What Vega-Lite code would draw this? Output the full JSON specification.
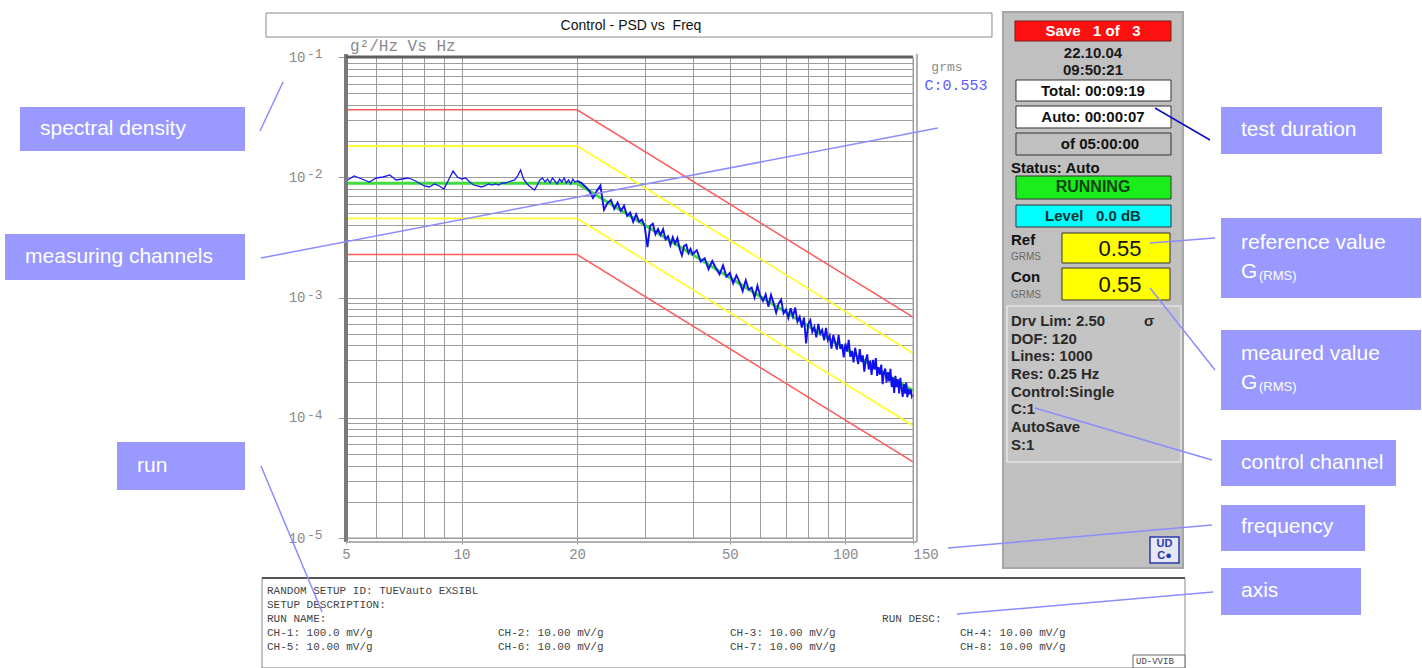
{
  "$schema": "https://vega.github.io/schema/vega-lite/v6.json",
  "width": 567,
  "height": 481,
  "autosize": {"type": "none"},
  "padding": {"left": 346, "top": 57, "right": 509, "bottom": 130},
  "background": "white",
  "config": {"view": {"stroke": null}},
  "data": {"values": [{}]},
  "datasets": {
    "limits": [
      {"f": 5, "psd": 0.0364, "level": "abort", "side": "upper"},
      {"f": 20, "psd": 0.0364, "level": "abort", "side": "upper"},
      {"f": 150, "psd": 0.000688, "level": "abort", "side": "upper"},
      {"f": 5, "psd": 0.002275, "level": "abort", "side": "lower"},
      {"f": 20, "psd": 0.002275, "level": "abort", "side": "lower"},
      {"f": 150, "psd": 0.000043, "level": "abort", "side": "lower"},
      {"f": 5, "psd": 0.0182, "level": "alarm", "side": "upper"},
      {"f": 20, "psd": 0.0182, "level": "alarm", "side": "upper"},
      {"f": 150, "psd": 0.000344, "level": "alarm", "side": "upper"},
      {"f": 5, "psd": 0.00455, "level": "alarm", "side": "lower"},
      {"f": 20, "psd": 0.00455, "level": "alarm", "side": "lower"},
      {"f": 150, "psd": 0.000086, "level": "alarm", "side": "lower"}
    ],
    "profile": [
      {"f": 5, "psd": 0.0089},
      {"f": 20, "psd": 0.0089},
      {"f": 150, "psd": 0.000168}
    ],
    "trace": [
      {"f":5,"psd":0.00931},{"f":5.25,"psd":0.01024},{"f":5.5,"psd":0.00967},{"f":5.75,"psd":0.00913},{"f":6,"psd":0.00986},{"f":6.25,"psd":0.01005},{"f":6.5,"psd":0.01044},{"f":6.75,"psd":0.00949},{"f":7,"psd":0.00967},{"f":7.25,"psd":0.00986},{"f":7.5,"psd":0.00949},{"f":7.75,"psd":0.00896},{"f":8,"psd":0.00846},{"f":8.25,"psd":0.0083},{"f":8.5,"psd":0.00879},{"f":8.75,"psd":0.00846},{"f":9,"psd":0.00799},{"f":9.25,"psd":0.00949},{"f":9.5,"psd":0.01127},{"f":9.75,"psd":0.01005},{"f":10,"psd":0.00967},{"f":10.25,"psd":0.00986},{"f":10.5,"psd":0.00913},{"f":10.75,"psd":0.00862},{"f":11,"psd":0.00846},{"f":11.25,"psd":0.0083},{"f":11.5,"psd":0.00846},{"f":11.75,"psd":0.00879},{"f":12,"psd":0.00862},{"f":12.25,"psd":0.00879},{"f":12.5,"psd":0.00862},{"f":12.75,"psd":0.00896},{"f":13,"psd":0.00896},{"f":13.25,"psd":0.00913},{"f":13.5,"psd":0.00931},{"f":13.75,"psd":0.00949},{"f":14,"psd":0.01024},{"f":14.25,"psd":0.01149},{"f":14.5,"psd":0.00967},{"f":14.75,"psd":0.00896},{"f":15,"psd":0.00846},{"f":15.25,"psd":0.00814},{"f":15.5,"psd":0.00783},{"f":15.75,"psd":0.00862},{"f":16,"psd":0.00949},{"f":16.25,"psd":0.00986},{"f":16.5,"psd":0.00913},{"f":16.75,"psd":0.00967},{"f":17,"psd":0.00896},{"f":17.25,"psd":0.00986},{"f":17.5,"psd":0.00931},{"f":17.75,"psd":0.00879},{"f":18,"psd":0.00967},{"f":18.25,"psd":0.00913},{"f":18.5,"psd":0.00986},{"f":18.75,"psd":0.00896},{"f":19,"psd":0.00949},{"f":19.25,"psd":0.00879},{"f":19.5,"psd":0.00967},{"f":19.75,"psd":0.00913},{"f":20,"psd":0.00931},
      {"f":20.5,"psd":0.00898},{"f":21,"psd":0.00839},{"f":21.5,"psd":0.00776},{"f":22,"psd":0.00673},{"f":22.5,"psd":0.00767},{"f":23,"psd":0.00853},{"f":23.5,"psd":0.00536},{"f":24,"psd":0.0061},{"f":24.5,"psd":0.00647},{"f":25,"psd":0.00545},{"f":25.5,"psd":0.00615},{"f":26,"psd":0.00525},{"f":26.5,"psd":0.0058},{"f":27,"psd":0.00477},{"f":27.5,"psd":0.00509},{"f":28,"psd":0.00425},{"f":28.5,"psd":0.00492},{"f":29,"psd":0.00427},{"f":29.5,"psd":0.00446},{"f":30,"psd":0.00391},{"f":30.5,"psd":0.00262},{"f":31,"psd":0.00393},{"f":31.5,"psd":0.0041},{"f":32,"psd":0.00336},{"f":32.5,"psd":0.00371},{"f":33,"psd":0.0033},{"f":33.5,"psd":0.00369},{"f":34,"psd":0.00304},{"f":34.5,"psd":0.00323},{"f":35,"psd":0.00272},{"f":35.5,"psd":0.00317},{"f":36,"psd":0.0028},{"f":36.5,"psd":0.00311},{"f":37,"psd":0.00254},{"f":37.5,"psd":0.00224},{"f":38,"psd":0.00269},{"f":38.5,"psd":0.00275},{"f":39,"psd":0.00234},{"f":39.5,"psd":0.00254},{"f":40,"psd":0.00229},
      {"f":41,"psd":0.00247},{"f":42,"psd":0.00199},{"f":43,"psd":0.00212},{"f":44,"psd":0.00172},{"f":45,"psd":0.00201},{"f":46,"psd":0.00175},{"f":47,"psd":0.00156},{"f":48,"psd":0.00185},{"f":49,"psd":0.00149},{"f":50,"psd":0.0016},{"f":51,"psd":0.00131},{"f":52,"psd":0.00153},{"f":53,"psd":0.00134},{"f":54,"psd":0.00113},{"f":55,"psd":0.00139},{"f":56,"psd":0.00116},{"f":57,"psd":0.00121},{"f":58,"psd":0.001},{"f":59,"psd":0.00125},{"f":60,"psd":0.00103},{"f":61,"psd":0.000934},{"f":62,"psd":0.00106},{"f":63,"psd":0.000839},{"f":64,"psd":0.00105},{"f":65,"psd":0.000894},{"f":66,"psd":0.000747},{"f":67,"psd":0.00089},{"f":68,"psd":0.00096},{"f":69,"psd":0.000738},{"f":70,"psd":0.000793},{"f":71,"psd":0.000675},{"f":72,"psd":0.000814},{"f":73,"psd":0.000694},{"f":74,"psd":0.000825},{"f":75,"psd":0.000632},{"f":76,"psd":0.000692},{"f":77,"psd":0.000562},{"f":78,"psd":0.000681},{"f":79,"psd":0.000415},{"f":80,"psd":0.000601},
      {"f":81,"psd":0.000649},{"f":82,"psd":0.000517},{"f":83,"psd":0.000569},{"f":84,"psd":0.000466},{"f":85,"psd":0.000604},{"f":86,"psd":0.0005},{"f":87,"psd":0.000538},{"f":88,"psd":0.00044},{"f":89,"psd":0.00056},{"f":90,"psd":0.000443},{"f":91,"psd":0.000483},{"f":92,"psd":0.000376},{"f":93,"psd":0.000488},{"f":94,"psd":0.000427},{"f":95,"psd":0.000369},{"f":96,"psd":0.000489},{"f":97,"psd":0.000373},{"f":98,"psd":0.000408},{"f":99,"psd":0.000318},{"f":100,"psd":0.000414},{"f":101,"psd":0.000356},{"f":102,"psd":0.000445},{"f":103,"psd":0.000321},{"f":104,"psd":0.000359},{"f":105,"psd":0.000289},{"f":106,"psd":0.000382},{"f":107,"psd":0.000323},{"f":108,"psd":0.000279},{"f":109,"psd":0.000373},{"f":110,"psd":0.000291},{"f":111,"psd":0.00033},{"f":112,"psd":0.000242},{"f":113,"psd":0.000302},{"f":114,"psd":0.000336},{"f":115,"psd":0.000252},{"f":116,"psd":0.000297},{"f":117,"psd":0.000227},{"f":118,"psd":0.000303},{"f":119,"psd":0.000251},{"f":120,"psd":0.000314},
      {"f":121,"psd":0.000223},{"f":122,"psd":0.000264},{"f":123,"psd":0.000228},{"f":124,"psd":0.000277},{"f":125,"psd":0.00019},{"f":126,"psd":0.000238},{"f":127,"psd":0.000256},{"f":128,"psd":0.000197},{"f":129,"psd":0.00024},{"f":130,"psd":0.000201},{"f":131,"psd":0.000255},{"f":132,"psd":0.00018},{"f":133,"psd":0.000217},{"f":134,"psd":0.000161},{"f":135,"psd":0.000223},{"f":136,"psd":0.00018},{"f":137,"psd":0.000209},{"f":138,"psd":0.000159},{"f":139,"psd":0.000215},{"f":140,"psd":0.000178},{"f":141,"psd":0.000149},{"f":142,"psd":0.00019},{"f":143,"psd":0.000159},{"f":144,"psd":0.000196},{"f":145,"psd":0.000148},{"f":146,"psd":0.000174},{"f":147,"psd":0.000157},{"f":148,"psd":0.000172},{"f":149,"psd":0.00015},{"f":150,"psd":0.000156}
    ]
  },
  "layer": [
    {
      "data": {"name": "limits"},
      "transform": [{"filter": "datum.level == 'abort'"}],
      "mark": {"type": "line", "color": "#ff5a5a", "strokeWidth": 1.5},
      "encoding": {
        "x": {
          "field": "f", "type": "quantitative",
          "scale": {"type": "log", "domain": [5, 150], "nice": false},
          "axis": {
            "title": null, "orient": "bottom",
            "values": [5, 6, 7, 8, 9, 10, 20, 30, 40, 50, 60, 70, 80, 90, 100, 150],
            "labelExpr": "indexof([5, 10, 20, 50, 100, 150], datum.value) >= 0 ? '' + datum.value : ''",
            "grid": true, "gridColor": "#9c9c9c", "gridWidth": 1,
            "domain": false,
            "tickSize": 6, "tickColor": "#999999",
            "tickOpacity": {"condition": {"test": "indexof([5, 10, 20, 50, 100, 150], datum.value) >= 0", "value": 1}, "value": 0},
            "labelFont": "Liberation Mono", "labelFontSize": 14, "labelColor": "#8a8a8a", "labelPadding": 3,
            "labelFlush": false, "labelOverlap": false, "labelBound": false,
            "labelAlign": {"condition": {"test": "datum.value == 150", "value": "left"}, "value": "center"}
          }
        },
        "y": {
          "field": "psd", "type": "quantitative",
          "scale": {"type": "log", "domain": [0.00001, 0.1], "nice": false},
          "axis": {
            "title": null, "orient": "left",
            "values": [0.00001, 0.00002, 0.00003, 0.00004, 0.00005, 0.00006, 0.00007, 0.00008, 0.00009, 0.0001, 0.0002, 0.0003, 0.0004, 0.0005, 0.0006, 0.0007, 0.0008, 0.0009, 0.001, 0.002, 0.003, 0.004, 0.005, 0.006, 0.007, 0.008, 0.009, 0.01, 0.02, 0.03, 0.04, 0.05, 0.06, 0.07, 0.08, 0.09, 0.1],
            "labelExpr": "datum.value == 0.1 || datum.value == 0.01 || datum.value == 0.001 || datum.value == 0.0001 || datum.value == 0.00001 ? '10' : ''",
            "grid": true, "gridColor": "#9c9c9c", "gridWidth": 1,
            "domain": false,
            "tickSize": 8, "tickColor": "#999999",
            "tickOpacity": {"condition": {"test": "datum.value == 0.1 || datum.value == 0.01 || datum.value == 0.001 || datum.value == 0.0001 || datum.value == 0.00001", "value": 1}, "value": 0},
            "labelFont": "Liberation Mono", "labelFontSize": 14, "labelColor": "#8a8a8a", "labelPadding": 33,
            "labelFlush": false, "labelOverlap": false, "labelBound": false
          }
        },
        "detail": {"field": "side"}
      }
    },
    {
      "data": {"name": "limits"},
      "transform": [{"filter": "datum.level == 'alarm'"}],
      "mark": {"type": "line", "color": "#ffff33", "strokeWidth": 1.8},
      "encoding": {
        "x": {"field": "f", "type": "quantitative", "title": null},
        "y": {"field": "psd", "type": "quantitative", "title": null},
        "detail": {"field": "side"}
      }
    },
    {
      "data": {"name": "profile"},
      "mark": {"type": "line", "color": "#3fdc3f", "strokeWidth": 3},
      "encoding": {
        "x": {"field": "f", "type": "quantitative", "title": null},
        "y": {"field": "psd", "type": "quantitative", "title": null}
      }
    },
    {
      "data": {"name": "trace"},
      "transform": [{"filter": "datum.f <= 20"}],
      "mark": {"type": "line", "color": "#1a1af0", "strokeWidth": 1.3},
      "encoding": {
        "x": {"field": "f", "type": "quantitative", "title": null},
        "y": {"field": "psd", "type": "quantitative", "title": null}
      }
    },
    {
      "data": {"name": "trace"},
      "transform": [{"filter": "datum.f >= 20"}],
      "mark": {"type": "line", "color": "#1010ee", "strokeWidth": 1.9},
      "encoding": {
        "x": {"field": "f", "type": "quantitative", "title": null},
        "y": {"field": "psd", "type": "quantitative", "title": null}
      }
    },
    {"mark": {"type": "text", "text": "-1", "font": "Liberation Mono", "fontSize": 13, "color": "#8a8a8a", "align": "left", "baseline": "middle"}, "encoding": {"x": {"datum": 3.957}, "y": {"datum": 0.1059}}},
    {"mark": {"type": "text", "text": "-2", "font": "Liberation Mono", "fontSize": 13, "color": "#8a8a8a", "align": "left", "baseline": "middle"}, "encoding": {"x": {"datum": 3.957}, "y": {"datum": 0.01059}}},
    {"mark": {"type": "text", "text": "-3", "font": "Liberation Mono", "fontSize": 13, "color": "#8a8a8a", "align": "left", "baseline": "middle"}, "encoding": {"x": {"datum": 3.957}, "y": {"datum": 0.001059}}},
    {"mark": {"type": "text", "text": "-4", "font": "Liberation Mono", "fontSize": 13, "color": "#8a8a8a", "align": "left", "baseline": "middle"}, "encoding": {"x": {"datum": 3.957}, "y": {"datum": 0.0001059}}},
    {"mark": {"type": "text", "text": "-5", "font": "Liberation Mono", "fontSize": 13, "color": "#8a8a8a", "align": "left", "baseline": "middle"}, "encoding": {"x": {"datum": 3.957}, "y": {"datum": 0.00001059}}},

    {"mark": {"type": "rule", "color": "#7a7a7a", "strokeWidth": 4}, "encoding": {"x": {"datum": 5}, "y": {"datum": 0.1059}, "y2": {"datum": 0.000009262}}},
    {"mark": {"type": "rule", "color": "#5e5e5e", "strokeWidth": 3}, "encoding": {"x": {"datum": 5}, "x2": {"datum": 150}, "y": {"datum": 0.1}}},
    {"mark": {"type": "rule", "color": "#9c9c9c", "strokeWidth": 1}, "encoding": {"x": {"datum": 150}, "y": {"datum": 0.1}, "y2": {"datum": 0.00001}}},
    {"mark": {"type": "rule", "color": "#9c9c9c", "strokeWidth": 1}, "encoding": {"x": {"datum": 5}, "x2": {"datum": 150}, "y": {"datum": 0.00001}}},
    {"mark": {"type": "rule", "color": "#b0b0b0", "strokeWidth": 2}, "encoding": {"x": {"datum": 153.6}, "y": {"datum": 0.1059}, "y2": {"datum": 0.000009262}}},
    {"mark": {"type": "rule", "color": "#b0b0b0", "strokeWidth": 2}, "encoding": {"x": {"datum": 5}, "x2": {"datum": 153.6}, "y": {"datum": 0.000009262}}},

    {"mark": {"type": "rect", "fill": "white", "stroke": "#8a8a8a", "strokeWidth": 1}, "encoding": {"x": {"datum": 3.094}, "x2": {"datum": 240.9}, "y": {"datum": 0.2322}, "y2": {"datum": 0.1466}}},
    {"mark": {"type": "text", "text": "Control - PSD vs\u00a0 Freq", "font": "Liberation Sans", "fontSize": 14, "color": "#111111", "align": "center", "baseline": "middle"}, "encoding": {"x": {"datum": 27.63}, "y": {"datum": 0.1811}}},
    {"mark": {"type": "text", "text": "g²/Hz Vs Hz", "font": "Liberation Mono", "fontSize": 16, "color": "#8a8a8a", "align": "left", "baseline": "middle"}, "encoding": {"x": {"datum": 5.121}, "y": {"datum": 0.1235}}},
    {"mark": {"type": "text", "text": "grms", "font": "Liberation Mono", "fontSize": 13, "color": "#8a8a8a", "align": "center", "baseline": "middle"}, "encoding": {"x": {"datum": 183.9}, "y": {"datum": 0.08257}}},
    {"mark": {"type": "text", "text": "C:0.553", "font": "Liberation Mono", "fontSize": 15, "color": "#5a5aff", "align": "center", "baseline": "middle"}, "encoding": {"x": {"datum": 194.2}, "y": {"datum": 0.05851}}},

    {"mark": {"type": "rect", "fill": "#c0c0c0", "stroke": "#a6a6a6", "strokeWidth": 2}, "encoding": {"x": {"datum": 257.3}, "x2": {"datum": 757.6}, "y": {"datum": 0.2367}, "y2": {"datum": 0.00000563}}},
    {"mark": {"type": "rect", "fill": "#ff1010", "stroke": "#7a2020", "strokeWidth": 1}, "encoding": {"x": {"datum": 276.5}, "x2": {"datum": 705.1}, "y": {"datum": 0.1993}, "y2": {"datum": 0.1358}}},
    {"mark": {"type": "text", "text": "Save\u00a0\u00a0 1 of\u00a0\u00a0 3", "font": "Liberation Sans", "fontWeight": "bold", "fontSize": 15, "color": "white", "align": "center", "baseline": "middle"}, "encoding": {"x": {"datum": 441.6}, "y": {"datum": 0.1645}}},
    {"mark": {"type": "text", "text": "22.10.04", "font": "Liberation Sans", "fontWeight": "bold", "fontSize": 15, "color": "#1a1a1a", "align": "center", "baseline": "middle"}, "encoding": {"x": {"datum": 441.6}, "y": {"datum": 0.108}}},
    {"mark": {"type": "text", "text": "09:50:21", "font": "Liberation Sans", "fontWeight": "bold", "fontSize": 15, "color": "#1a1a1a", "align": "center", "baseline": "middle"}, "encoding": {"x": {"datum": 441.6}, "y": {"datum": 0.07794}}},
    {"mark": {"type": "rect", "fill": "white", "stroke": "#333333", "strokeWidth": 1}, "encoding": {"x": {"datum": 278.2}, "x2": {"datum": 705.1}, "y": {"datum": 0.06437}, "y2": {"datum": 0.04306}}},
    {"mark": {"type": "text", "text": "Total: 00:09:19", "font": "Liberation Sans", "fontWeight": "bold", "fontSize": 15, "color": "#111111", "align": "center", "baseline": "middle"}, "encoding": {"x": {"datum": 441.6}, "y": {"datum": 0.05265}}},
    {"mark": {"type": "rect", "fill": "white", "stroke": "#333333", "strokeWidth": 1}, "encoding": {"x": {"datum": 278.2}, "x2": {"datum": 705.1}, "y": {"datum": 0.03913}, "y2": {"datum": 0.02569}}},
    {"mark": {"type": "text", "text": "Auto: 00:00:07", "font": "Liberation Sans", "fontWeight": "bold", "fontSize": 15, "color": "#111111", "align": "center", "baseline": "middle"}, "encoding": {"x": {"datum": 441.6}, "y": {"datum": 0.0317}}},
    {"mark": {"type": "rect", "fill": "#c0c0c0", "stroke": "#333333", "strokeWidth": 1}, "encoding": {"x": {"datum": 278.2}, "x2": {"datum": 705.1}, "y": {"datum": 0.02333}, "y2": {"datum": 0.01531}}},
    {"mark": {"type": "text", "text": "of 05:00:00", "font": "Liberation Sans", "fontWeight": "bold", "fontSize": 15, "color": "#111111", "align": "center", "baseline": "middle"}, "encoding": {"x": {"datum": 460.5}, "y": {"datum": 0.0189}}},
    {"mark": {"type": "text", "text": "Status: Auto", "font": "Liberation Sans", "fontWeight": "bold", "fontSize": 15, "color": "#111111", "align": "left", "baseline": "middle"}, "encoding": {"x": {"datum": 270}, "y": {"datum": 0.01194}}},
    {"mark": {"type": "rect", "fill": "#1aee1a", "stroke": "#333333", "strokeWidth": 1}, "encoding": {"x": {"datum": 278.2}, "x2": {"datum": 705.1}, "y": {"datum": 0.01024}, "y2": {"datum": 0.006592}}},
    {"mark": {"type": "text", "text": "RUNNING", "font": "Liberation Sans", "fontWeight": "bold", "fontSize": 16, "color": "#114411", "align": "center", "baseline": "middle"}, "encoding": {"x": {"datum": 441.6}, "y": {"datum": 0.0083}}},
    {"mark": {"type": "rect", "fill": "#00ffff", "stroke": "#333333", "strokeWidth": 1}, "encoding": {"x": {"datum": 278.2}, "x2": {"datum": 705.1}, "y": {"datum": 0.005875}, "y2": {"datum": 0.003857}}},
    {"mark": {"type": "text", "text": "Level\u00a0\u00a0 0.0 dB", "font": "Liberation Sans", "fontWeight": "bold", "fontSize": 15, "color": "#113333", "align": "center", "baseline": "middle"}, "encoding": {"x": {"datum": 441.6}, "y": {"datum": 0.004762}}},
    {"mark": {"type": "text", "text": "Ref", "font": "Liberation Sans", "fontWeight": "bold", "fontSize": 15, "color": "#111111", "align": "left", "baseline": "middle"}, "encoding": {"x": {"datum": 270}, "y": {"datum": 0.003008}}},
    {"mark": {"type": "text", "text": "GRMS", "font": "Liberation Sans", "fontSize": 10, "color": "#6a6a6a", "align": "left", "baseline": "middle"}, "encoding": {"x": {"datum": 270}, "y": {"datum": 0.002172}}},
    {"mark": {"type": "rect", "fill": "#ffff00", "stroke": "#333333", "strokeWidth": 1}, "encoding": {"x": {"datum": 366.6}, "x2": {"datum": 700.8}, "y": {"datum": 0.003439}, "y2": {"datum": 0.001936}}},
    {"mark": {"type": "text", "text": "0.55", "font": "Liberation Sans", "fontSize": 22, "color": "#111111", "align": "center", "baseline": "middle"}, "encoding": {"x": {"datum": 519.2}, "y": {"datum": 0.002531}}},
    {"mark": {"type": "text", "text": "Con", "font": "Liberation Sans", "fontWeight": "bold", "fontSize": 15, "color": "#111111", "align": "left", "baseline": "middle"}, "encoding": {"x": {"datum": 270}, "y": {"datum": 0.001481}}},
    {"mark": {"type": "text", "text": "GRMS", "font": "Liberation Sans", "fontSize": 10, "color": "#6a6a6a", "align": "left", "baseline": "middle"}, "encoding": {"x": {"datum": 270}, "y": {"datum": 0.001049}}},
    {"mark": {"type": "rect", "fill": "#ffff00", "stroke": "#333333", "strokeWidth": 1}, "encoding": {"x": {"datum": 366.6}, "x2": {"datum": 700.8}, "y": {"datum": 0.001759}, "y2": {"datum": 0.0009532}}},
    {"mark": {"type": "text", "text": "0.55", "font": "Liberation Sans", "fontSize": 22, "color": "#111111", "align": "center", "baseline": "middle"}, "encoding": {"x": {"datum": 519.2}, "y": {"datum": 0.001271}}},
    {"mark": {"type": "rect", "fill": "#c4c4c4", "stroke": "#e4e4e4", "strokeWidth": 1.5}, "encoding": {"x": {"datum": 263.6}, "x2": {"datum": 748.6}, "y": {"datum": 0.0008499}, "y2": {"datum": 0.00004285}}},
    {"mark": {"type": "text", "text": ["Drv Lim: 2.50", "DOF: 120", "Lines: 1000", "Res: 0.25 Hz", "Control:Single", "C:1", "AutoSave", "S:1"], "lineHeight": 17.7, "font": "Liberation Sans", "fontWeight": "bold", "fontSize": 15, "color": "#2a2a2a", "align": "left", "baseline": "top"}, "encoding": {"x": {"datum": 270}, "y": {"datum": 0.0007292}}},
    {"mark": {"type": "text", "text": "σ", "font": "Liberation Sans", "fontWeight": "bold", "fontSize": 15, "color": "#2a2a2a", "align": "center", "baseline": "middle"}, "encoding": {"x": {"datum": 617.9}, "y": {"datum": 0.0006375}}},
    {"mark": {"type": "rect", "fill": "#e6e6f4", "stroke": "#2a3aaa", "strokeWidth": 1.5}, "encoding": {"x": {"datum": 621.6}, "x2": {"datum": 739.7}, "y": {"datum": 0.00001019}, "y2": {"datum": 0.000006195}}},
    {"mark": {"type": "text", "text": "UD", "font": "Liberation Sans", "fontWeight": "bold", "fontSize": 11, "color": "#2a3aaa", "align": "center", "baseline": "middle"}, "encoding": {"x": {"datum": 678.1}, "y": {"datum": 0.000008917}}},
    {"mark": {"type": "text", "text": "C●", "font": "Liberation Sans", "fontWeight": "bold", "fontSize": 11, "color": "#2a3aaa", "align": "center", "baseline": "middle"}, "encoding": {"x": {"datum": 678.1}, "y": {"datum": 0.000007085}}},

    {"mark": {"type": "rect", "fill": "white", "stroke": "#8a8a8a", "strokeWidth": 1}, "encoding": {"x": {"datum": 3.021}, "x2": {"datum": 766.7}, "y": {"datum": 0.000004648}, "y2": {"datum": 0.0000008297}}},
    {"mark": {"type": "rule", "color": "#555555", "strokeWidth": 2}, "encoding": {"x": {"datum": 3.021}, "x2": {"datum": 766.7}, "y": {"datum": 0.000004648}}},
    {"mark": {"type": "text", "text": ["RANDOM SETUP ID: TUEVauto EXSIBL", "SETUP DESCRIPTION:", "RUN NAME:", "CH-1: 100.0 mV/g", "CH-5: 10.00 mV/g"], "lineHeight": 14, "font": "Liberation Mono", "fontSize": 11, "color": "#444444", "align": "left", "baseline": "top"}, "encoding": {"x": {"datum": 3.113}, "y": {"datum": 0.000004065}}},
    {"mark": {"type": "text", "text": ["CH-2: 10.00 mV/g", "CH-6: 10.00 mV/g"], "lineHeight": 14, "font": "Liberation Mono", "fontSize": 11, "color": "#444444", "align": "left", "baseline": "top"}, "encoding": {"x": {"datum": 12.44}, "y": {"datum": 0.000001819}}},
    {"mark": {"type": "text", "text": ["CH-3: 10.00 mV/g", "CH-7: 10.00 mV/g"], "lineHeight": 14, "font": "Liberation Mono", "fontSize": 11, "color": "#444444", "align": "left", "baseline": "top"}, "encoding": {"x": {"datum": 50.04}, "y": {"datum": 0.000001819}}},
    {"mark": {"type": "text", "text": ["CH-4: 10.00 mV/g", "CH-8: 10.00 mV/g"], "lineHeight": 14, "font": "Liberation Mono", "fontSize": 11, "color": "#444444", "align": "left", "baseline": "top"}, "encoding": {"x": {"datum": 198.8}, "y": {"datum": 0.000001819}}},
    {"mark": {"type": "text", "text": "RUN DESC:", "font": "Liberation Mono", "fontSize": 11, "color": "#444444", "align": "left", "baseline": "top"}, "encoding": {"x": {"datum": 124.6}, "y": {"datum": 0.000002378}}},
    {"mark": {"type": "rect", "fill": "white", "stroke": "#666666", "strokeWidth": 1}, "encoding": {"x": {"datum": 561.3}, "x2": {"datum": 766.7}, "y": {"datum": 0.000001064}, "y2": {"datum": 0.0000008297}}},
    {"mark": {"type": "text", "text": "UD-VVIB", "font": "Liberation Mono", "fontSize": 9, "color": "#444444", "align": "left", "baseline": "middle"}, "encoding": {"x": {"datum": 571.5}, "y": {"datum": 0.0000009397}}},

    {"mark": {"type": "rect", "fill": "#9999ff"}, "encoding": {"x": {"datum": 0.7075}, "x2": {"datum": 2.728}, "y": {"datum": 0.03839}, "y2": {"datum": 0.01653}}},
    {"mark": {"type": "rect", "fill": "#9999ff"}, "encoding": {"x": {"datum": 0.6467}, "x2": {"datum": 2.728}, "y": {"datum": 0.003374}, "y2": {"datum": 0.001398}}},
    {"mark": {"type": "rect", "fill": "#9999ff"}, "encoding": {"x": {"datum": 1.266}, "x2": {"datum": 2.728}, "y": {"datum": 0.00006284}, "y2": {"datum": 0.00002507}}},
    {"mark": {"type": "rect", "fill": "#9999ff"}, "encoding": {"x": {"datum": 951.6}, "x2": {"datum": 2500}, "y": {"datum": 0.03839}, "y2": {"datum": 0.01561}}},
    {"mark": {"type": "rect", "fill": "#9999ff"}, "encoding": {"x": {"datum": 951.6}, "x2": {"datum": 3159}, "y": {"datum": 0.004583}, "y2": {"datum": 0.0009904}}},
    {"mark": {"type": "rect", "fill": "#9999ff"}, "encoding": {"x": {"datum": 951.6}, "x2": {"datum": 3159}, "y": {"datum": 0.0005366}, "y2": {"datum": 0.000116}}},
    {"mark": {"type": "rect", "fill": "#9999ff"}, "encoding": {"x": {"datum": 951.6}, "x2": {"datum": 2719}, "y": {"datum": 0.00006531}, "y2": {"datum": 0.00002706}}},
    {"mark": {"type": "rect", "fill": "#9999ff"}, "encoding": {"x": {"datum": 951.6}, "x2": {"datum": 2258}, "y": {"datum": 0.0000188}, "y2": {"datum": 0.000007794}}},
    {"mark": {"type": "rect", "fill": "#9999ff"}, "encoding": {"x": {"datum": 951.6}, "x2": {"datum": 2204}, "y": {"datum": 0.00000563}, "y2": {"datum": 0.000002289}}},

    {"mark": {"type": "text", "text": "spectral density", "font": "Liberation Sans", "fontSize": 21, "color": "white", "align": "left", "baseline": "middle"}, "encoding": {"x": {"datum": 0.7975}, "y": {"datum": 0.02519}}},
    {"mark": {"type": "text", "text": "measuring channels", "font": "Liberation Sans", "fontSize": 21, "color": "white", "align": "left", "baseline": "middle"}, "encoding": {"x": {"datum": 0.7291}, "y": {"datum": 0.002172}}},
    {"mark": {"type": "text", "text": "run", "font": "Liberation Sans", "fontSize": 21, "color": "white", "align": "left", "baseline": "middle"}, "encoding": {"x": {"datum": 1.427}, "y": {"datum": 0.0000397}}},
    {"mark": {"type": "text", "text": "test duration", "font": "Liberation Sans", "fontSize": 21, "color": "white", "align": "left", "baseline": "middle"}, "encoding": {"x": {"datum": 1072.8}, "y": {"datum": 0.02471}}},
    {"mark": {"type": "text", "text": "reference value", "font": "Liberation Sans", "fontSize": 21, "color": "white", "align": "left", "baseline": "middle"}, "encoding": {"x": {"datum": 1072.8}, "y": {"datum": 0.00284}}},
    {"mark": {"type": "text", "text": "G", "font": "Liberation Sans", "fontSize": 21, "color": "white", "align": "left", "baseline": "middle"}, "encoding": {"x": {"datum": 1072.8}, "y": {"datum": 0.00163}}},
    {"mark": {"type": "text", "text": "(RMS)", "font": "Liberation Sans", "fontSize": 13, "color": "white", "align": "left", "baseline": "middle"}, "encoding": {"x": {"datum": 1195}, "y": {"datum": 0.0015098}}},
    {"mark": {"type": "text", "text": "meaured value", "font": "Liberation Sans", "fontSize": 21, "color": "white", "align": "left", "baseline": "middle"}, "encoding": {"x": {"datum": 1072.8}, "y": {"datum": 0.0003389}}},
    {"mark": {"type": "text", "text": "G", "font": "Liberation Sans", "fontSize": 21, "color": "white", "align": "left", "baseline": "middle"}, "encoding": {"x": {"datum": 1072.8}, "y": {"datum": 0.0001945}}},
    {"mark": {"type": "text", "text": "(RMS)", "font": "Liberation Sans", "fontSize": 13, "color": "white", "align": "left", "baseline": "middle"}, "encoding": {"x": {"datum": 1195}, "y": {"datum": 0.00018017}}},
    {"mark": {"type": "text", "text": "control channel", "font": "Liberation Sans", "fontSize": 21, "color": "white", "align": "left", "baseline": "middle"}, "encoding": {"x": {"datum": 1072.8}, "y": {"datum": 0.00004204}}},
    {"mark": {"type": "text", "text": "frequency", "font": "Liberation Sans", "fontSize": 21, "color": "white", "align": "left", "baseline": "middle"}, "encoding": {"x": {"datum": 1072.8}, "y": {"datum": 0.00001234}}},
    {"mark": {"type": "text", "text": "axis", "font": "Liberation Sans", "fontSize": 21, "color": "white", "align": "left", "baseline": "middle"}, "encoding": {"x": {"datum": 1072.8}, "y": {"datum": 0.000003624}}},

    {"mark": {"type": "rule", "color": "#8c8cff", "strokeWidth": 1.5}, "encoding": {"x": {"datum": 2.985}, "x2": {"datum": 3.427}, "y": {"datum": 0.02425}, "y2": {"datum": 0.06195}}},
    {"mark": {"type": "rule", "color": "#8c8cff", "strokeWidth": 1.5}, "encoding": {"x": {"datum": 3.003}, "x2": {"datum": 174.2}, "y": {"datum": 0.002131}, "y2": {"datum": 0.02569}}},
    {"mark": {"type": "rule", "color": "#1010c0", "strokeWidth": 1.5}, "encoding": {"x": {"datum": 640.5}, "x2": {"datum": 890.9}, "y": {"datum": 0.03766}, "y2": {"datum": 0.0204}}},
    {"mark": {"type": "rule", "color": "#8c8cff", "strokeWidth": 1.5}, "encoding": {"x": {"datum": 621.6}, "x2": {"datum": 918}, "y": {"datum": 0.00284}, "y2": {"datum": 0.003126}}},
    {"mark": {"type": "rule", "color": "#8c8cff", "strokeWidth": 1.5}, "encoding": {"x": {"datum": 621.6}, "x2": {"datum": 918}, "y": {"datum": 0.001199}, "y2": {"datum": 0.0002494}}},
    {"mark": {"type": "rule", "color": "#8c8cff", "strokeWidth": 1.5}, "encoding": {"x": {"datum": 311.8}, "x2": {"datum": 901.7}, "y": {"datum": 0.0001205}, "y2": {"datum": 0.00004452}}},
    {"mark": {"type": "rule", "color": "#8c8cff", "strokeWidth": 1.5}, "encoding": {"x": {"datum": 185.1}, "x2": {"datum": 901.7}, "y": {"datum": 0.000008256}, "y2": {"datum": 0.00001282}}},
    {"mark": {"type": "rule", "color": "#8c8cff", "strokeWidth": 1.5}, "encoding": {"x": {"datum": 195.3}, "x2": {"datum": 907.1}, "y": {"datum": 0.000002333}, "y2": {"datum": 0.000003556}}},
    {"mark": {"type": "rule", "color": "#8c8cff", "strokeWidth": 1.5}, "encoding": {"x": {"datum": 3.003}, "x2": {"datum": 4.33}, "y": {"datum": 0.0000397}, "y2": {"datum": 0.000002424}}}
  ]
}
